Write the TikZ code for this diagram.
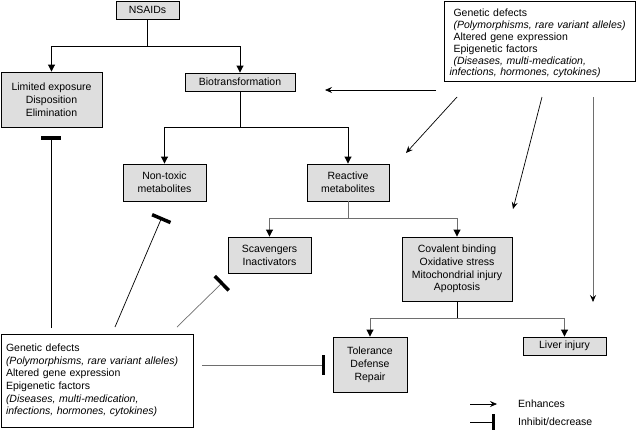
\documentclass[tikz,border=0pt]{standalone}
\usepackage{fontspec}
\setmainfont{Liberation Sans}
\usetikzlibrary{arrows.meta}
\definecolor{boxfill}{HTML}{DEDEDE}
\definecolor{lgray}{HTML}{6E6E6E}
\tikzset{
  gbox/.style={draw=black, fill=boxfill, line width=0.9pt, inner sep=0pt, align=center, font=\fontsize{10.5}{12.8}\selectfont},
  wbox/.style={draw=black, fill=white, line width=0.9pt, inner sep=0pt, align=left, font=\fontsize{10.5}{11.8}\selectfont},
  conn/.style={line width=0.9pt, black},
  gconn/.style={line width=0.9pt, lgray},
  tri/.style={-{Triangle[length=7pt,width=7pt,color=black]}},
  enh/.style={line width=0.7pt, black, -{Stealth[length=7pt,width=6pt,inset=2.5pt,color=black]}},
  inh/.style={line width=0.7pt, black, -{Bar[width=20pt,line width=3.5pt,color=black]}},
  legtext/.style={anchor=west, inner sep=0pt, font=\fontsize{10.5}{12.6}\selectfont}
}
\begin{document}
\begin{tikzpicture}[x=1pt,y=-1pt]
\useasboundingbox (0,0) rectangle (636,429);
% boxes
\node[gbox, minimum width=63pt, minimum height=18pt] (nsaids) at (147.5,10) {NSAIDs};
\node[gbox, minimum width=101pt, minimum height=55pt] (lim) at (51.5,99.5) {Limited exposure\\Disposition\\Elimination};
\node[gbox, minimum width=110pt, minimum height=18pt] (bio) at (240,82) {Biotransformation};
\node[gbox, minimum width=83pt, minimum height=37pt] (nontox) at (164.5,182.5) {Non-toxic\\metabolites};
\node[gbox, minimum width=82pt, minimum height=37pt] (react) at (348,182.5) {Reactive\\metabolites};
\node[gbox, minimum width=83pt, minimum height=36pt] (scav) at (269.5,255) {Scavengers\\Inactivators};
\node[gbox, minimum width=110pt, minimum height=64pt] (cov) at (457,269) {Covalent binding\\Oxidative stress\\Mitochondrial injury\\Apoptosis};
\node[gbox, minimum width=74pt, minimum height=55pt] (tol) at (370,364.5) {Tolerance\\Defense\\Repair};
\node[gbox, minimum width=83pt, minimum height=18pt] (liver) at (564.5,346) {Liver injury};
\node[wbox, minimum width=191pt, minimum height=80pt, text width=180pt] (gtop) at (539.5,41)
  {\leftskip=4pt\rule{0pt}{13pt}Genetic defects\\\textit{(Polymorphisms, rare variant alleles)}\\Altered gene expression\\Epigenetic factors\\\textit{(Diseases, multi-medication,}\\\textit{infections, hormones, cytokines)}};
\node[wbox, minimum width=192pt, minimum height=93pt, text width=182pt, font=\fontsize{10.5}{12.6}\selectfont] (gbot) at (97,380.5)
  {Genetic defects\\\textit{(Polymorphisms, rare variant alleles)}\\Altered gene expression\\Epigenetic factors\\\textit{(Diseases, multi-medication,}\\\textit{infections, hormones, cytokines)}};
% coordinates
\coordinate (j1) at (147.5,46);
\coordinate (j2) at (240,127);
\coordinate (j3) at (348,218);
\coordinate (j4) at (457,318);
\coordinate (s1) at (436,90);
\coordinate (s2) at (457,97);
\coordinate (s3) at (542,97);
\coordinate (s4) at (593,97);
\coordinate (e1) at (325,90);
\coordinate (e2) at (406,153);
\coordinate (e3) at (513,209);
\coordinate (e4) at (593,302);
\coordinate (b1) at (51,328);
\coordinate (b2) at (115,327);
\coordinate (b3) at (177,327);
\coordinate (b4) at (202,365);
\coordinate (i0) at (51,136);
\coordinate (i1) at (162,217);
\coordinate (i2) at (223,282);
\coordinate (i3) at (325,365);
\coordinate (l1) at (470,404);
\coordinate (l2) at (497,404);
\coordinate (l3) at (470,422);
\coordinate (l4) at (495,422);
% tree connectors
\draw[conn] (nsaids.south) -- (j1);
\draw[conn, tri] (j1) -| (lim.north);
\draw[conn, tri] (j1) -| (bio.north);
\draw[conn] (bio.south) -- (j2);
\draw[conn, tri] (j2) -| (nontox.north);
\draw[conn, tri] (j2) -| (react.north);
\draw[gconn] (react.south) -- (j3);
\draw[gconn, tri] (j3) -| (scav.north);
\draw[gconn, tri] (j3) -| (cov.north);
\draw[conn] (cov.south) -- (j4);
\draw[gconn, tri] (j4) -| (tol.north);
\draw[gconn, tri] (j4) -| (liver.north);
% enhance arrows from top-right box
\draw[enh] (s1) -- (e1);
\draw[enh] (s2) -- (e2);
\draw[enh] (s3) -- (e3);
\draw[enh, lgray] (s4) -- (e4);
% inhibit lines from bottom-left box
\draw[inh, line width=0.9pt] (b1) -- (i0);
\draw[inh] (b2) -- (i1);
\draw[inh, lgray] (b3) -- (i2);
\draw[inh, lgray] (b4) -- (i3);
% legend
\draw[enh] (l1) -- (l2);
\draw[inh, -{Bar[width=16pt,line width=3.5pt,color=black]}] (l3) -- (l4);
\node[legtext] (len) at (518,404) {Enhances};
\node[legtext] (lin) at (518,422) {Inhibit/decrease};
\end{tikzpicture}
\end{document}
